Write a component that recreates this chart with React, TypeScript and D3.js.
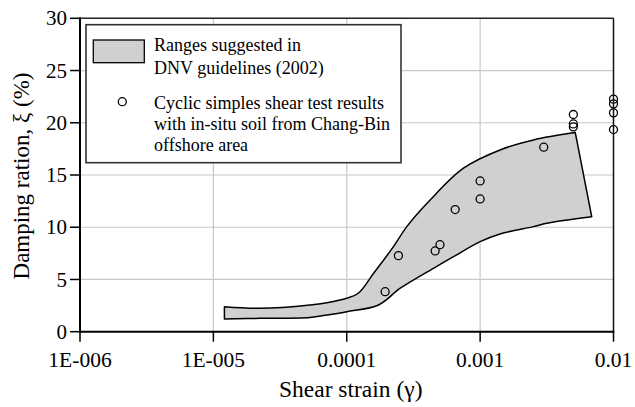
import React from "react";
import * as d3 from "d3";

// DNV range band: upper and lower bounds (shear strain, damping %)
const bandUpper: [number, number][] = [
  [1.21e-5, 2.39], [2.25e-5, 2.24], [5.3e-5, 2.56], [7.1e-5, 2.78], [1.0e-4, 3.2],
  [1.22e-4, 3.68], [1.59e-4, 5.59], [2.24e-4, 8.14], [2.82e-4, 10.06],
  [4.22e-4, 12.61], [7.5e-4, 15.65], [1.41e-3, 17.4], [2.51e-3, 18.36], [5.17e-3, 19.06],
];
const bandLower: [number, number][] = [
  [1.21e-5, 1.22], [2.25e-5, 1.28], [5.3e-5, 1.36], [7.1e-5, 1.6], [1.0e-4, 1.92],
  [1.73e-4, 2.56], [2.52e-4, 4.16], [4.47e-4, 6.07], [6.31e-4, 7.18], [1e-3, 8.62],
  [1.41e-3, 9.36], [2.51e-3, 10.06], [3.16e-3, 10.38], [6.87e-3, 11.0],
];

// Cyclic simple shear test results
const testStrain = [
  0.000194, 0.000244, 0.00046, 0.0005, 0.00065, 0.001, 0.001, 0.003,
  0.005, 0.005, 0.005, 0.01, 0.01, 0.01, 0.01,
];
const testDamping = [
  3.83, 7.28, 7.73, 8.33, 11.69, 14.43, 12.71, 17.66,
  20.79, 19.89, 19.61, 22.26, 21.81, 20.95, 19.35,
];

const xTicks = [1e-6, 1e-5, 1e-4, 1e-3, 1e-2];
const xTickLabels = ["1E-006", "1E-005", "0.0001", "0.001", "0.01"];
const yTicks = [0, 5, 10, 15, 20, 25, 30];

const legendLabels = [
  ["Ranges suggested in", "DNV guidelines (2002)"],
  ["Cyclic simples shear test results", "with in-situ soil from Chang-Bin", "offshore area"],
];

const W = 635;
const H = 407;
const left = 80;
const right = 613.5;
const top = 18.3;
const bottom = 331.7;
const FONT =
  '"Liberation Serif", Tinos, "Times New Roman", Times, "Nimbus Roman", FreeSerif, "DejaVu Serif", serif';

export default function App() {
  const x = d3.scaleLog().domain([1e-6, 1e-2]).range([left, right]);
  const y = d3.scaleLinear().domain([0, 30]).range([bottom, top]);

  const edge = d3
    .line<[number, number]>()
    .x((d) => x(d[0]))
    .y((d) => y(d[1]))
    .curve(d3.curveCatmullRom.alpha(0.5));
  const upperPath = edge(bandUpper) as string;
  const lowerPath = edge(bandLower.slice().reverse()) as string;
  const bandPath = upperPath + "L" + lowerPath.slice(1) + "Z";

  const txt = { fontFamily: FONT, fill: "#000" } as React.CSSProperties;

  return (
    <svg
      width={W}
      height={H}
      style={{ position: "absolute", left: 0, top: 0, background: "#fff" }}
    >
      {/* grid */}
      {xTicks.slice(1, -1).map((t) => (
        <line key={"gx" + t} x1={x(t)} x2={x(t)} y1={top} y2={bottom} stroke="#c8c8c8" strokeWidth={1.2} />
      ))}
      {yTicks.slice(1, -1).map((t) => (
        <line key={"gy" + t} x1={left} x2={right} y1={y(t)} y2={y(t)} stroke="#c8c8c8" strokeWidth={1.2} />
      ))}

      {/* DNV band */}
      <path d={bandPath} fill="#d0d0d0" stroke="#000" strokeWidth={1.5} strokeLinejoin="round" />

      {/* test points */}
      {testStrain.map((s, i) => (
        <circle key={"p" + i} cx={x(s)} cy={y(testDamping[i])} r={4} fill="none" stroke="#000" strokeWidth={1.3} />
      ))}

      {/* frame */}
      <line x1={left} x2={right} y1={top} y2={top} stroke="#222" strokeWidth={1.5} />
      <line x1={right} x2={right} y1={top} y2={bottom} stroke="#111" strokeWidth={1.5} />
      <line x1={left} x2={left} y1={top - 1} y2={bottom + 1} stroke="#000" strokeWidth={2} />
      <line x1={left - 1} x2={right + 0.8} y1={bottom} y2={bottom} stroke="#000" strokeWidth={2} />

      {/* y ticks */}
      {yTicks.map((t) => (
        <g key={"yt" + t}>
          <line x1={left - 10} x2={left} y1={y(t)} y2={y(t)} stroke="#000" strokeWidth={1.5} />
          <text x={67} y={y(t)} dy="0.34em" textAnchor="end" fontSize={21} style={txt}>
            {t}
          </text>
        </g>
      ))}

      {/* x ticks */}
      {xTicks.map((t, i) => (
        <g key={"xt" + t}>
          <line x1={x(t)} x2={x(t)} y1={bottom} y2={bottom + 10} stroke="#000" strokeWidth={1.5} />
          <text x={x(t)} y={366.5} textAnchor="middle" fontSize={21.5} style={txt}>
            {xTickLabels[i]}
          </text>
        </g>
      ))}

      {/* axis titles */}
      <text x={(left + right) / 2 + 4} y={396.5} textAnchor="middle" fontSize={23.5} style={txt}>
        Shear strain (γ)
      </text>
      <text
        transform={`translate(28.5, ${176}) rotate(-90)`}
        textAnchor="middle"
        fontSize={23}
        style={txt}
      >
        Damping ration, ξ (%)
      </text>

      {/* legend */}
      <rect x={86} y={24.7} width={315} height={138} fill="#fff" stroke="#333" strokeWidth={1.6} />
      <rect x={93.3} y={40} width={51} height={22.7} fill="#d0d0d0" stroke="#000" strokeWidth={1.3} />
      <circle cx={122.3} cy={101.7} r={4} fill="none" stroke="#000" strokeWidth={1.3} />
      {legendLabels[0].map((s, i) => (
        <text key={"l0" + i} x={154} y={50.7 + i * 23} fontSize={18} style={txt}>
          {s}
        </text>
      ))}
      {legendLabels[1].map((s, i) => (
        <text key={"l1" + i} x={154} y={109.3 + i * 21} fontSize={18} style={txt}>
          {s}
        </text>
      ))}
    </svg>
  );
}
